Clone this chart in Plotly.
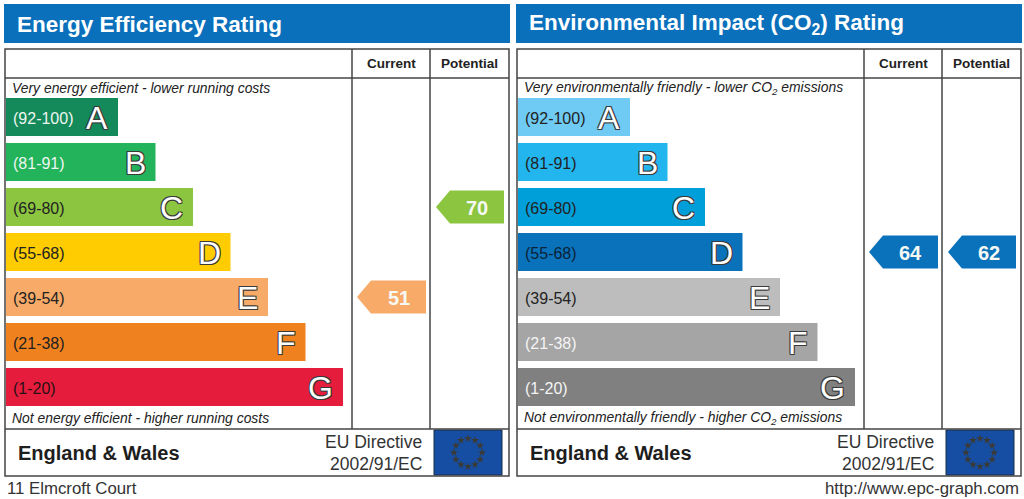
import math
import plotly.graph_objects as go

# ---- data ----
bands = ["A", "B", "C", "D", "E", "F", "G"]
band_ranges = ["(92-100)", "(81-91)", "(69-80)", "(55-68)", "(39-54)", "(21-38)", "(1-20)"]
band_min = [92, 81, 69, 55, 39, 21, 1]

ee_colors = ["#14895a", "#22b35b", "#8cc540", "#fecc00", "#f8aa68", "#f0811f", "#e51c3c"]
ee_label_colors = ["#eef6f0", "#eef6f0", "#222222", "#222222", "#222222", "#222222", "#2a1014"]
ei_colors = ["#6fcbf3", "#22b5ee", "#009fd9", "#0a72ba", "#bdbdbd", "#a5a5a5", "#808080"]
ei_label_colors = ["#222222", "#222222", "#222222", "#0b2238", "#222222", "#f4f4f4", "#f4f4f4"]

ee_current, ee_potential = 51, 70
ei_current, ei_potential = 64, 62

titles = ["Energy Efficiency Rating", "Environmental Impact (CO<sub>2</sub>) Rating"]
top_notes = ["Very energy efficient - lower running costs",
             "Very environmentally friendly - lower CO<sub>2</sub> emissions"]
bottom_notes = ["Not energy efficient - higher running costs",
                "Not environmentally friendly - higher CO<sub>2</sub> emissions"]
address = "11 Elmcroft Court"
site = "http://www.epc-graph.com"

# ---- layout constants (pixels) ----
W, H = 1024, 499
FONT = "Arial, Liberation Sans, sans-serif"
BLUE = "#0a70bb"
LINE = "#444444"
ROW_TOP, ROW_STEP, ROW_H = 98, 45, 38
BAR_END0, BAR_STEP = 118, 37.5


def band_of(score):
    for i, m in enumerate(band_min):
        if score >= m:
            return i
    return len(bands) - 1


fig = go.Figure()
shapes = []
ann = []


def text(x, y, s, size, color="#222222", anchor="left", weight="normal", style="normal", shadow=None):
    f = dict(family=FONT, size=size, color=color, weight=weight, style=style)
    if shadow:
        f["shadow"] = shadow
    ann.append(dict(x=x, y=y, xref="x", yref="y", text=s, showarrow=False,
                    xanchor=anchor, yanchor="middle", font=f))


outline = "-1px -1px 0 #3a3a3a, 1px -1px 0 #3a3a3a, -1px 1px 0 #3a3a3a, 1px 1px 0 #3a3a3a"

panels = [
    (0, ee_colors, ee_label_colors, ee_current, ee_potential),
    (512, ei_colors, ei_label_colors, ei_current, ei_potential),
]

for k, (ox, colors, lab_cols, cur, pot) in enumerate(panels):
    # title bar
    shapes.append(dict(type="rect", x0=ox + 4, x1=ox + 510, y0=4, y1=43,
                       fillcolor=BLUE, line_width=0, layer="below"))
    text(ox + 15, 24, titles[k], 22.5, "white", weight="bold")

    # table frame
    shapes.append(dict(type="rect", x0=ox + 5, x1=ox + 509, y0=49, y1=476,
                       line=dict(color=LINE, width=1.5)))
    for y in (78, 429):
        shapes.append(dict(type="line", x0=ox + 5, x1=ox + 509, y0=y, y1=y,
                           line=dict(color=LINE, width=1.5)))
    for x in (352, 430):
        shapes.append(dict(type="line", x0=ox + x, x1=ox + x, y0=49, y1=429,
                           line=dict(color=LINE, width=1.5)))
    text(ox + 391, 63, "Current", 13.5, "#222222", "center", "bold")
    text(ox + 469.5, 63, "Potential", 13.5, "#222222", "center", "bold")

    text(ox + 10, 88, top_notes[k], 13.9, "#222222", style="italic")
    text(ox + 10, 418, bottom_notes[k], 13.9, "#222222", style="italic")

    # bands
    ys = [ROW_TOP + ROW_H / 2 + ROW_STEP * i for i in range(len(bands))]
    ends = [BAR_END0 + BAR_STEP * i for i in range(len(bands))]
    fig.add_trace(go.Bar(orientation="h", y=ys, x=[e - 6 for e in ends],
                         base=ox + 6, width=ROW_H, marker=dict(color=colors, line_width=0),
                         hoverinfo="skip", showlegend=False))
    for i in range(len(bands)):
        text(ox + 11, ys[i] + 1, band_ranges[i], 16, lab_cols[i])
        text(ox + ends[i] - 8, ys[i] + 1, bands[i], 32, "white", "right", shadow=outline)

    # rating arrows
    for score, (c0, c1) in ((cur, (357, 426)), (pot, (436, 504))):
        bi = band_of(score)
        yc = ys[bi]
        xl, xr = ox + c0, ox + c1
        fig.add_trace(go.Scatter(
            x=[xl, xl + 14, xr, xr, xl + 14, xl],
            y=[yc, yc - 16.5, yc - 16.5, yc + 16.5, yc + 16.5, yc],
            mode="lines", fill="toself", fillcolor=colors[bi], line=dict(width=0),
            hoverinfo="skip", showlegend=False))
        text((xl + 14 + xr) / 2, yc + 1, str(score), 20, "#f6f8f4", "center", "bold")

    # footer
    text(ox + 16, 453, "England & Wales", 20, "#1e1e1e", weight="bold")
    text(ox + 424, 442, "EU Directive", 17.5, "#333333", "right")
    text(ox + 424, 464, "2002/91/EC", 17.5, "#333333", "right")
    shapes.append(dict(type="rect", x0=ox + 434, x1=ox + 502, y0=430, y1=475,
                       fillcolor="#164ea3", line=dict(color="#1c2a44", width=1),
                       layer="below"))
    sx = [ox + 468 + 14 * math.cos(2 * math.pi * j / 12) for j in range(12)]
    sy = [452.5 + 14 * math.sin(2 * math.pi * j / 12) for j in range(12)]
    fig.add_trace(go.Scatter(x=sx, y=sy, mode="markers",
                             marker=dict(symbol="star", size=6, color="#3b3a33"),
                             hoverinfo="skip", showlegend=False))

text(5, 488, address, 16.8, "#333333")
text(1021, 488, site, 16.8, "#333333", "right")

fig.update_layout(
    width=W, height=H, margin=dict(l=0, r=0, t=0, b=0),
    paper_bgcolor="white", plot_bgcolor="white",
    barmode="overlay", shapes=shapes, annotations=ann,
    xaxis=dict(range=[0, W], visible=False, fixedrange=True),
    yaxis=dict(range=[H, 0], visible=False, fixedrange=True),
)

fig.write_html("out.html", config={"displayModeBar": False},
               post_script="document.body.style.margin='0';")
